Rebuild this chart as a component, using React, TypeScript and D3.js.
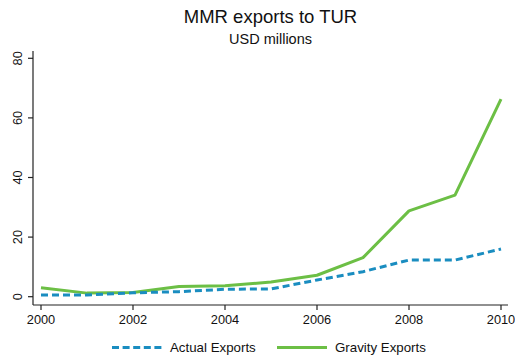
import React from "react";
import * as d3 from "d3";

const years = [2000, 2001, 2002, 2003, 2004, 2005, 2006, 2007, 2008, 2009, 2010];
const actualExports = [0.6, 0.6, 1.3, 1.7, 2.5, 2.6, 5.6, 8.4, 12.3, 12.3, 16.0];
const gravityExports = [3.0, 1.2, 1.4, 3.4, 3.7, 4.9, 7.2, 13.1, 28.8, 34.1, 66.3];
const xTicks = [2000, 2002, 2004, 2006, 2008, 2010];
const yTicks = [0, 20, 40, 60, 80];

const W = 515;
const H = 360;
const BLUE = "#1a8dc0";
const GREEN = "#6cbf45";
const FONT = "'Liberation Sans', Arial, Helvetica, sans-serif";

export default function App() {
  const x = d3.scaleLinear().domain([2000, 2010]).range([41, 501]);
  const y = d3.scaleLinear().domain([0, 80]).range([296.7, 58.3]);
  const line = d3
    .line<number>()
    .x((_, i) => x(years[i]))
    .y((d) => y(d));

  return (
    <svg
      width={W}
      height={H}
      style={{ position: "absolute", left: 0, top: 0, background: "#fff" }}
      fontFamily={FONT}
    >
      <rect x={0} y={0} width={W} height={H} fill="#fff" />
      <text x={270.5} y={23.3} textAnchor="middle" fontSize={18.5} fill="#111">
        MMR exports to TUR
      </text>
      <text x={270.5} y={43.5} textAnchor="middle" fontSize={14.5} fill="#111">
        USD millions
      </text>

      {/* axes */}
      <line x1={33} x2={33} y1={51} y2={305} stroke="#222" strokeWidth={1.2} />
      <line x1={33} x2={508} y1={305} y2={305} stroke="#222" strokeWidth={1.2} />
      {yTicks.map((t) => (
        <g key={t}>
          <line x1={28} x2={33} y1={y(t)} y2={y(t)} stroke="#222" strokeWidth={1.2} />
          <text
            transform={`translate(${21.5},${y(t)}) rotate(-90)`}
            textAnchor="middle"
            fontSize={12.8}
            fill="#111"
          >
            {t}
          </text>
        </g>
      ))}
      {xTicks.map((t) => (
        <g key={t}>
          <line x1={x(t)} x2={x(t)} y1={305} y2={310} stroke="#222" strokeWidth={1.2} />
          <text x={x(t)} y={323.5} textAnchor="middle" fontSize={12.8} fill="#111">
            {t}
          </text>
        </g>
      ))}

      <path
        d={line(gravityExports) || ""}
        fill="none"
        stroke={GREEN}
        strokeWidth={3}
        strokeLinejoin="round"
      />
      <path
        d={line(actualExports) || ""}
        fill="none"
        stroke={BLUE}
        strokeWidth={3}
        strokeDasharray="7,4"
      />

      {/* legend */}
      <line x1={112} x2={162} y1={347.5} y2={347.5} stroke={BLUE} strokeWidth={3} strokeDasharray="7,3.6" />
      <text x={170} y={352.3} fontSize={13.3} fill="#111">
        Actual Exports
      </text>
      <line x1={277} x2={327} y1={347.5} y2={347.5} stroke={GREEN} strokeWidth={3} />
      <text x={335} y={352.3} fontSize={13.3} fill="#111">
        Gravity Exports
      </text>
    </svg>
  );
}
